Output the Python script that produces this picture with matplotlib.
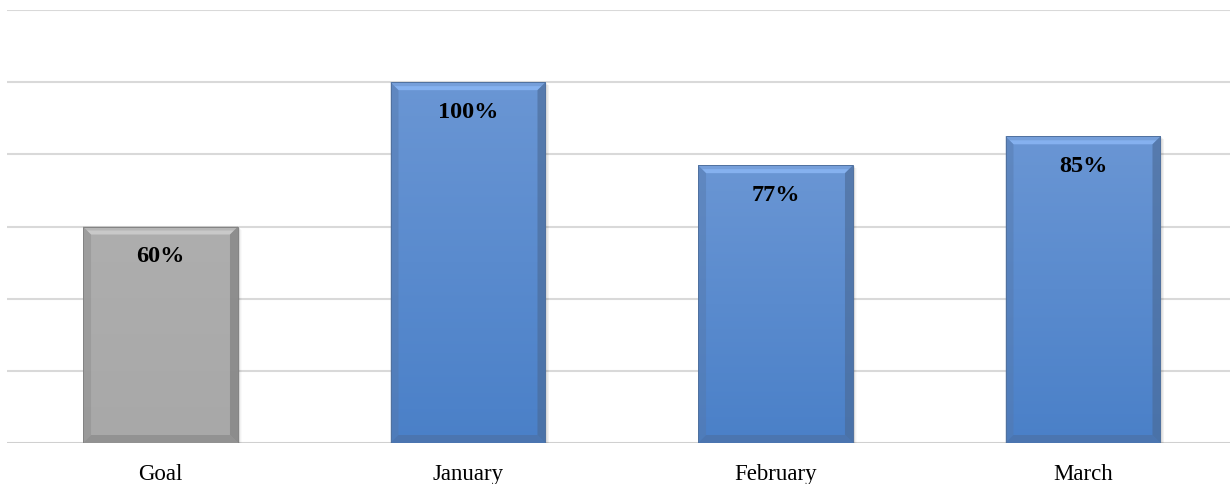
import numpy as np
import matplotlib
matplotlib.use("Agg")
import matplotlib.pyplot as plt
from matplotlib.patches import Polygon, Rectangle
from matplotlib.transforms import IdentityTransform
from matplotlib.colors import to_rgb

categories = ["Goal", "January", "February", "March"]
values = [60, 100, 77, 85]
labels = ["60%", "100%", "77%", "85%"]
colors_top = ["#aeaeae", "#6a96d4", "#6a96d4", "#6a96d4"]
colors_bot = ["#a8a8a8", "#4a80c8", "#4a80c8", "#4a80c8"]

W, H = 1230, 485
fig = plt.figure(figsize=(W / 100, H / 100), dpi=100)
ax = fig.add_axes([6.75 / W, (H - 444) / H, 1.0, (444 - 11) / H])
ax.set_xlim(-0.5, 3.5)
ax.set_ylim(0, 120)
ax.set_yticks(np.arange(0, 121, 20))
ax.yaxis.grid(True, color="#d9d9d9", lw=1.5)
ax.set_axisbelow(True)
for s in ax.spines.values():
    s.set_visible(False)
ax.tick_params(axis="y", left=False, labelleft=False)
ax.tick_params(axis="x", bottom=False, pad=11)
ax.set_xticks(range(len(categories)))
ax.set_xticklabels(categories, fontsize=16.5, family="Liberation Serif")
ax.axhline(0, color="#d0d0d0", lw=2, zorder=1)

bars = ax.bar(range(len(categories)), values, width=0.504, color="none", zorder=3)

fig.canvas.draw()
bev = 8
for b, ct, cb in zip(bars, colors_top, colors_bot):
    (x0, y0), (x1, y1) = ax.transData.transform([(b.get_x(), 0), (b.get_x() + b.get_width(), b.get_height())])
    # soft shadow
    for k, a in zip(range(1, 6), [0.08, 0.06, 0.045, 0.03, 0.02]):
        ax.add_patch(Rectangle((x0 + k * 0.8, y0 - k * 0.6), x1 - x0, y1 - y0, transform=IdentityTransform(),
                               facecolor="#000000", alpha=a, edgecolor="none", zorder=2))
    # gradient body
    ct_, cb_ = np.array(to_rgb(ct)), np.array(to_rgb(cb))
    t = np.linspace(0, 1, 256)[:, None]
    grad = (ct_[None, :] * (1 - t) + cb_[None, :] * t)[:, None, :]
    im = ax.imshow(grad, extent=(b.get_x(), b.get_x() + b.get_width(), 0, b.get_height()),
                   aspect="auto", zorder=3, origin="upper")
    rect = Rectangle((b.get_x(), 0), b.get_width(), b.get_height(), transform=ax.transData, facecolor="none")
    im.set_clip_path(rect)
    base = ct_
    light = np.clip(base + 0.12, 0, 1)
    # top bevel (gradient-ish: two layers)
    ax.add_patch(Polygon([(x0, y1), (x1, y1), (x1 - bev, y1 - bev), (x0 + bev, y1 - bev)],
                         transform=IdentityTransform(), facecolor=light, edgecolor="none", zorder=4, alpha=0.9))
    ax.add_patch(Polygon([(x0, y1), (x1, y1), (x1 - bev / 2, y1 - bev / 2), (x0 + bev / 2, y1 - bev / 2)],
                         transform=IdentityTransform(), facecolor=np.clip(base * 0.85, 0, 1), edgecolor="none",
                         zorder=4, alpha=0.35))
    # left bevel
    ax.add_patch(Polygon([(x0, y1), (x0 + bev, y1 - bev), (x0 + bev, y0 + bev), (x0, y0)],
                         transform=IdentityTransform(), facecolor=base * 0.8, edgecolor="none", zorder=4, alpha=0.45))
    # right bevel
    ax.add_patch(Polygon([(x1, y1), (x1 - bev, y1 - bev), (x1 - bev, y0 + bev), (x1, y0)],
                         transform=IdentityTransform(), facecolor=base * 0.7, edgecolor="none", zorder=4, alpha=0.6))
    # bottom bevel
    ax.add_patch(Polygon([(x0, y0), (x0 + bev, y0 + bev), (x1 - bev, y0 + bev), (x1, y0)],
                         transform=IdentityTransform(), facecolor=base * 0.72, edgecolor="none", zorder=4, alpha=0.5))
    ax.add_patch(Rectangle((x0, y0), x1 - x0, y1 - y0, transform=IdentityTransform(),
                           facecolor="none", edgecolor=base * 0.75, lw=0.7, zorder=5))

for b, lab in zip(bars, labels):
    ax.annotate(lab, (b.get_x() + b.get_width() / 2, b.get_height()), xytext=(0, -29),
                textcoords="offset pixels", ha="center", va="center", fontsize=17.5,
                fontweight="bold", family="Liberation Serif", zorder=6)

fig.savefig("out.png", dpi=100)
